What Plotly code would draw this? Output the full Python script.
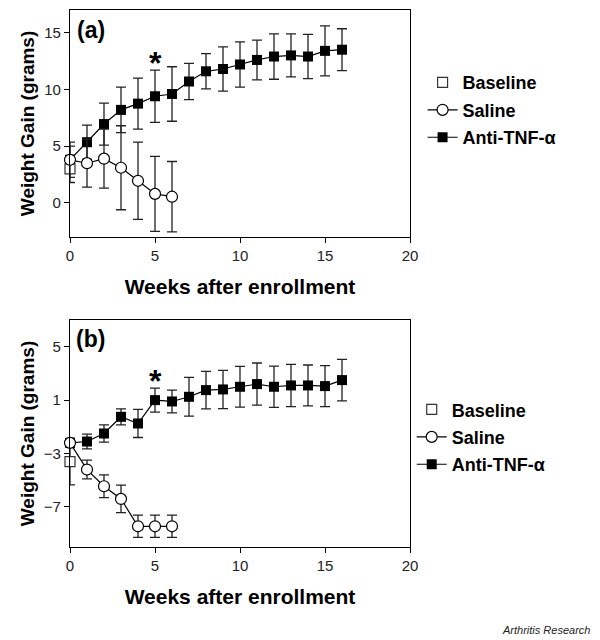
import plotly.graph_objects as go

# weeks after enrollment
weeks = list(range(17))
saline_weeks = list(range(7))

# panel (a)
anti_a = [3.8, 5.35, 6.95, 8.2, 8.75, 9.4, 9.6, 10.7, 11.6, 11.8, 12.2, 12.6, 12.9, 13.0, 12.9, 13.4, 13.5]
anti_a_err = [1.2, 1.5, 1.85, 2.0, 2.25, 2.3, 2.4, 1.6, 1.55, 1.95, 2.0, 1.75, 2.0, 1.9, 1.95, 2.2, 1.85]
saline_a = [3.8, 3.5, 3.9, 3.1, 1.95, 0.8, 0.55]
saline_a_err = [1.55, 2.1, 2.6, 3.7, 3.4, 3.3, 3.1]
baseline_a = [3.0]
baseline_a_err = [1.2]

# panel (b)
anti_b = [-2.2, -2.1, -1.5, -0.25, -0.75, 1.0, 0.9, 1.25, 1.75, 1.8, 2.0, 2.2, 2.0, 2.1, 2.1, 2.05, 2.5]
anti_b_err = [0.3, 0.55, 0.65, 0.6, 1.05, 0.9, 0.85, 1.45, 1.4, 1.43, 1.53, 1.58, 1.55, 1.58, 1.53, 1.53, 1.55]
saline_b = [-2.2, -4.2, -5.45, -6.4, -8.45, -8.45, -8.45]
saline_b_err = [0.3, 0.7, 0.85, 1.03, 0.83, 0.83, 0.83]
baseline_b = [-3.6]
baseline_b_err = [1.75]

FONT = "Liberation Sans, Arial, sans-serif"
EB = "#222222"


def err(vals):
    return dict(type="data", array=vals, visible=True, color=EB, thickness=1.3, width=5)


def add_panel(fig, xa, ya, leg, anti, anti_e, sal, sal_e, base, base_e):
    fig.add_trace(go.Scatter(
        x=weeks, y=anti, error_y=err(anti_e), mode="lines+markers", name="Anti-TNF-α",
        line=dict(color="black", width=1.2),
        marker=dict(symbol="square", size=10, color="black"),
        xaxis=xa, yaxis=ya, legend=leg, legendgroup=leg + "c", legendrank=3, cliponaxis=False))
    fig.add_trace(go.Scatter(
        x=[0], y=base, error_y=err(base_e), mode="markers", name="Baseline",
        marker=dict(symbol="square", size=10, color="white", line=dict(color="#333", width=1.2)),
        xaxis=xa, yaxis=ya, legend=leg, legendgroup=leg + "a", legendrank=1, cliponaxis=False))
    fig.add_trace(go.Scatter(
        x=saline_weeks, y=sal, error_y=err(sal_e), mode="lines+markers", name="Saline",
        line=dict(color="black", width=1.2),
        marker=dict(symbol="circle", size=11, color="white", line=dict(color="black", width=1.2)),
        xaxis=xa, yaxis=ya, legend=leg, legendgroup=leg + "b", legendrank=2, cliponaxis=False))


fig = go.Figure()
add_panel(fig, "x", "y", "legend", anti_a, anti_a_err, saline_a, saline_a_err, baseline_a, baseline_a_err)
add_panel(fig, "x2", "y2", "legend2", anti_b, anti_b_err, saline_b, saline_b_err, baseline_b, baseline_b_err)

axis_common = dict(
    showline=True, linecolor="black", linewidth=1.3, mirror=True,
    ticks="outside", ticklen=5, tickwidth=1.3, tickcolor="black",
    showgrid=False, zeroline=False, automargin=False,
    tickfont=dict(family=FONT, size=15, color="#222"),
)

xtitle = dict(text="<b>Weeks after enrollment</b>", font=dict(family=FONT, size=21, color="black"), standoff=16)
ytitle = dict(text="<b>Weight Gain (grams)</b>", font=dict(family=FONT, size=19, color="black"), standoff=4)

legend_common = dict(
    font=dict(family=FONT, size=18, color="black", weight="bold"), bgcolor="rgba(0,0,0,0)",
    traceorder="grouped", tracegroupgap=1, xanchor="left", yanchor="top",
)

# the page body has an 8px margin, so the figure is sized to fit the window
fig.update_layout(
    width=592, height=632,
    margin=dict(l=62, r=190, t=2, b=93, autoexpand=False),
    paper_bgcolor="white", plot_bgcolor="white",
    xaxis=dict(axis_common, domain=[0, 1], range=[0, 20], tickvals=[0, 5, 10, 15, 20],
               anchor="y", title=xtitle),
    yaxis=dict(axis_common, domain=[0.5773, 1], range=[-3, 17], tickvals=[0, 5, 10, 15],
               anchor="x", title=ytitle),
    xaxis2=dict(axis_common, domain=[0, 1], range=[0, 20], tickvals=[0, 5, 10, 15, 20],
                anchor="y2", title=xtitle),
    yaxis2=dict(axis_common, domain=[0, 0.4227], range=[-10, 7], tickvals=[-7, -3, 1, 5],
                anchor="x2", title=ytitle),
    legend=dict(legend_common, x=1.037, y=0.899),
    legend2=dict(legend_common, x=1.005, y=0.29),
    showlegend=True,
)

# panel labels, significance marks, source
fig.add_annotation(text="<b>(a)</b>", x=0.014, y=0.991, xref="paper", yref="paper",
                   xanchor="left", yanchor="top", showarrow=False, font=dict(family=FONT, size=23, color="black"))
fig.add_annotation(text="<b>(b)</b>", x=0.013, y=0.416, xref="paper", yref="paper",
                   xanchor="left", yanchor="top", showarrow=False, font=dict(family=FONT, size=23, color="black"))
fig.add_annotation(text="<b>*</b>", x=5, y=12.8, xref="x", yref="y", yshift=-5,
                   showarrow=False, font=dict(family=FONT, size=32, color="black"))
fig.add_annotation(text="<b>*</b>", x=5, y=2.8, xref="x2", yref="y2", yshift=-5,
                   showarrow=False, font=dict(family=FONT, size=32, color="black"))
fig.add_annotation(text="<i>Arthritis Research</i>", xref="paper", yref="paper",
                   x=(592 - 70) / 340, y=(547 - 630) / 537, xanchor="right", yanchor="middle",
                   showarrow=False, font=dict(family=FONT, size=11, color="#222"))

fig.write_html("out.html")
